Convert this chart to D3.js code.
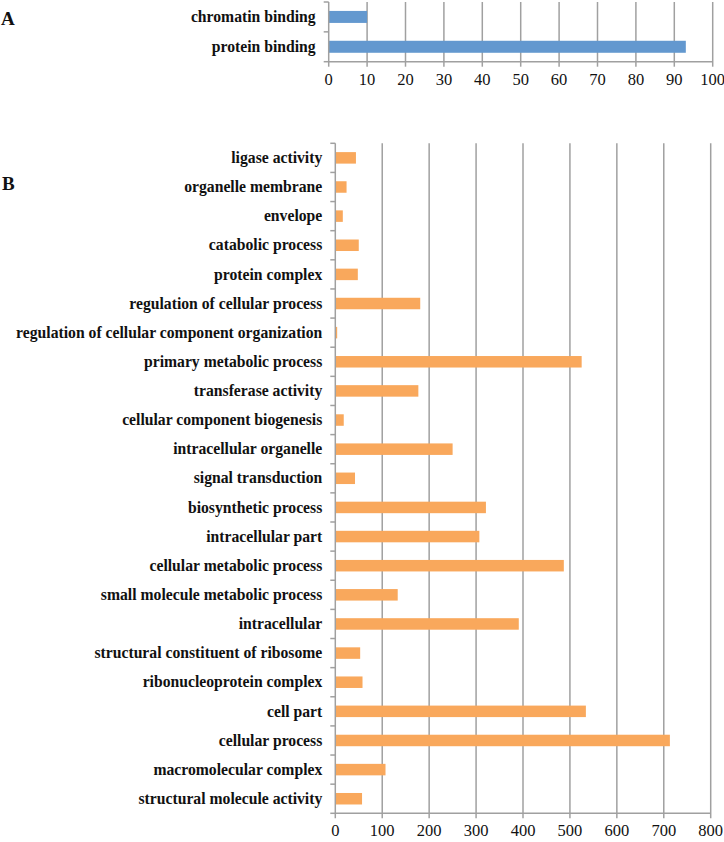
<!DOCTYPE html>
<html><head><meta charset="utf-8">
<script src="https://cdn.jsdelivr.net/npm/d3@7"></script>
<style>
body{margin:0;background:#fff;}
svg{display:block;}
</style></head>
<body><svg id="c" width="724" height="842"></svg>
<script>
const catsA = ["chromatin binding", "protein binding"];
const valsA = [10, 93];
const ticksA = [0,10,20,30,40,50,60,70,80,90,100];

const catsB = ["ligase activity","organelle membrane","envelope","catabolic process","protein complex",
"regulation of cellular process","regulation of cellular component organization","primary metabolic process",
"transferase activity","cellular component biogenesis","intracellular organelle","signal transduction",
"biosynthetic process","intracellular part","cellular metabolic process","small molecule metabolic process",
"intracellular","structural constituent of ribosome","ribonucleoprotein complex","cell part",
"cellular process","macromolecular complex","structural molecule activity"];
const valsB = [44,24,16,50,48,181,4,525,177,18,250,42,321,307,487,133,391,53,58,534,713,107,57];
const ticksB = [0,100,200,300,400,500,600,700,800];

const svg = d3.select("#c");
const gridColor = "#a0a0a0";
const labelFont = "'Liberation Serif','Times New Roman',serif";

function panel(cfg){
  const x = d3.scaleLinear().domain([0, cfg.max]).range([cfg.x0, cfg.x1]);
  const yb = d3.scaleBand().domain(cfg.cats).range([cfg.y0, cfg.y1]);
  const g = svg.append("g");
  g.selectAll("line.grid").data(cfg.ticks.slice(1)).join("line")
    .attr("x1", d=>x(d)).attr("x2", d=>x(d))
    .attr("y1", cfg.y0).attr("y2", cfg.y1 + 5)
    .attr("stroke", gridColor).attr("stroke-width", 1.5);
  g.selectAll("rect").data(cfg.cats).join("rect")
    .attr("x", x(0)).attr("y", d=>yb(d) + (yb.bandwidth()-cfg.barH)/2)
    .attr("width", (d,i)=>x(cfg.vals[i]) - x(0))
    .attr("height", cfg.barH)
    .attr("fill", cfg.color);
  g.append("line").attr("x1", x(0)).attr("x2", x(cfg.max)).attr("y1", cfg.y1).attr("y2", cfg.y1)
    .attr("stroke", gridColor).attr("stroke-width", 1.5);
  g.append("line").attr("x1", x(0)).attr("x2", x(0)).attr("y1", cfg.y0).attr("y2", cfg.y1 + 5)
    .attr("stroke", gridColor).attr("stroke-width", 1.5);
  const bounds = cfg.cats.map(d=>yb(d)).concat([cfg.y1]);
  g.selectAll("line.yt").data(bounds).join("line")
    .attr("x1", x(0) - 5).attr("x2", x(0)).attr("y1", d=>d).attr("y2", d=>d)
    .attr("stroke", gridColor).attr("stroke-width", 1.5);
  g.selectAll("text.xt").data(cfg.ticks).join("text")
    .attr("x", d=>x(d)).attr("y", cfg.y1 + 23)
    .attr("text-anchor", "middle")
    .attr("font-family", labelFont).attr("font-size", 16.5).attr("fill", "#111")
    .text(d=>d);
  g.selectAll("text.cl").data(cfg.cats).join("text")
    .attr("x", x(0) - 13).attr("y", d=>yb(d) + yb.bandwidth()/2)
    .attr("dy", "0.33em")
    .attr("text-anchor", "end")
    .attr("font-family", labelFont).attr("font-weight", "bold").attr("font-size", 15.7).attr("fill", "#111")
    .text(d=>d);
  svg.append("text").attr("x", cfg.lx).attr("y", cfg.ly)
    .attr("font-family", labelFont).attr("font-weight", "bold").attr("font-size", 19).attr("fill", "#111")
    .text(cfg.letter);
}

panel({cats: catsA, vals: valsA, ticks: ticksA, max: 100, x0: 328.7, x1: 712.7, y0: 2, y1: 61.7,
  barH: 12, color: "#6398cf", letter: "A", lx: 1, ly: 25});
panel({cats: catsB, vals: valsB, ticks: ticksB, max: 800, x0: 335.3, x1: 710.7, y0: 143.3, y1: 813.3,
  barH: 11.5, color: "#f9a85c", letter: "B", lx: 2, ly: 190});
</script>
</body></html>
